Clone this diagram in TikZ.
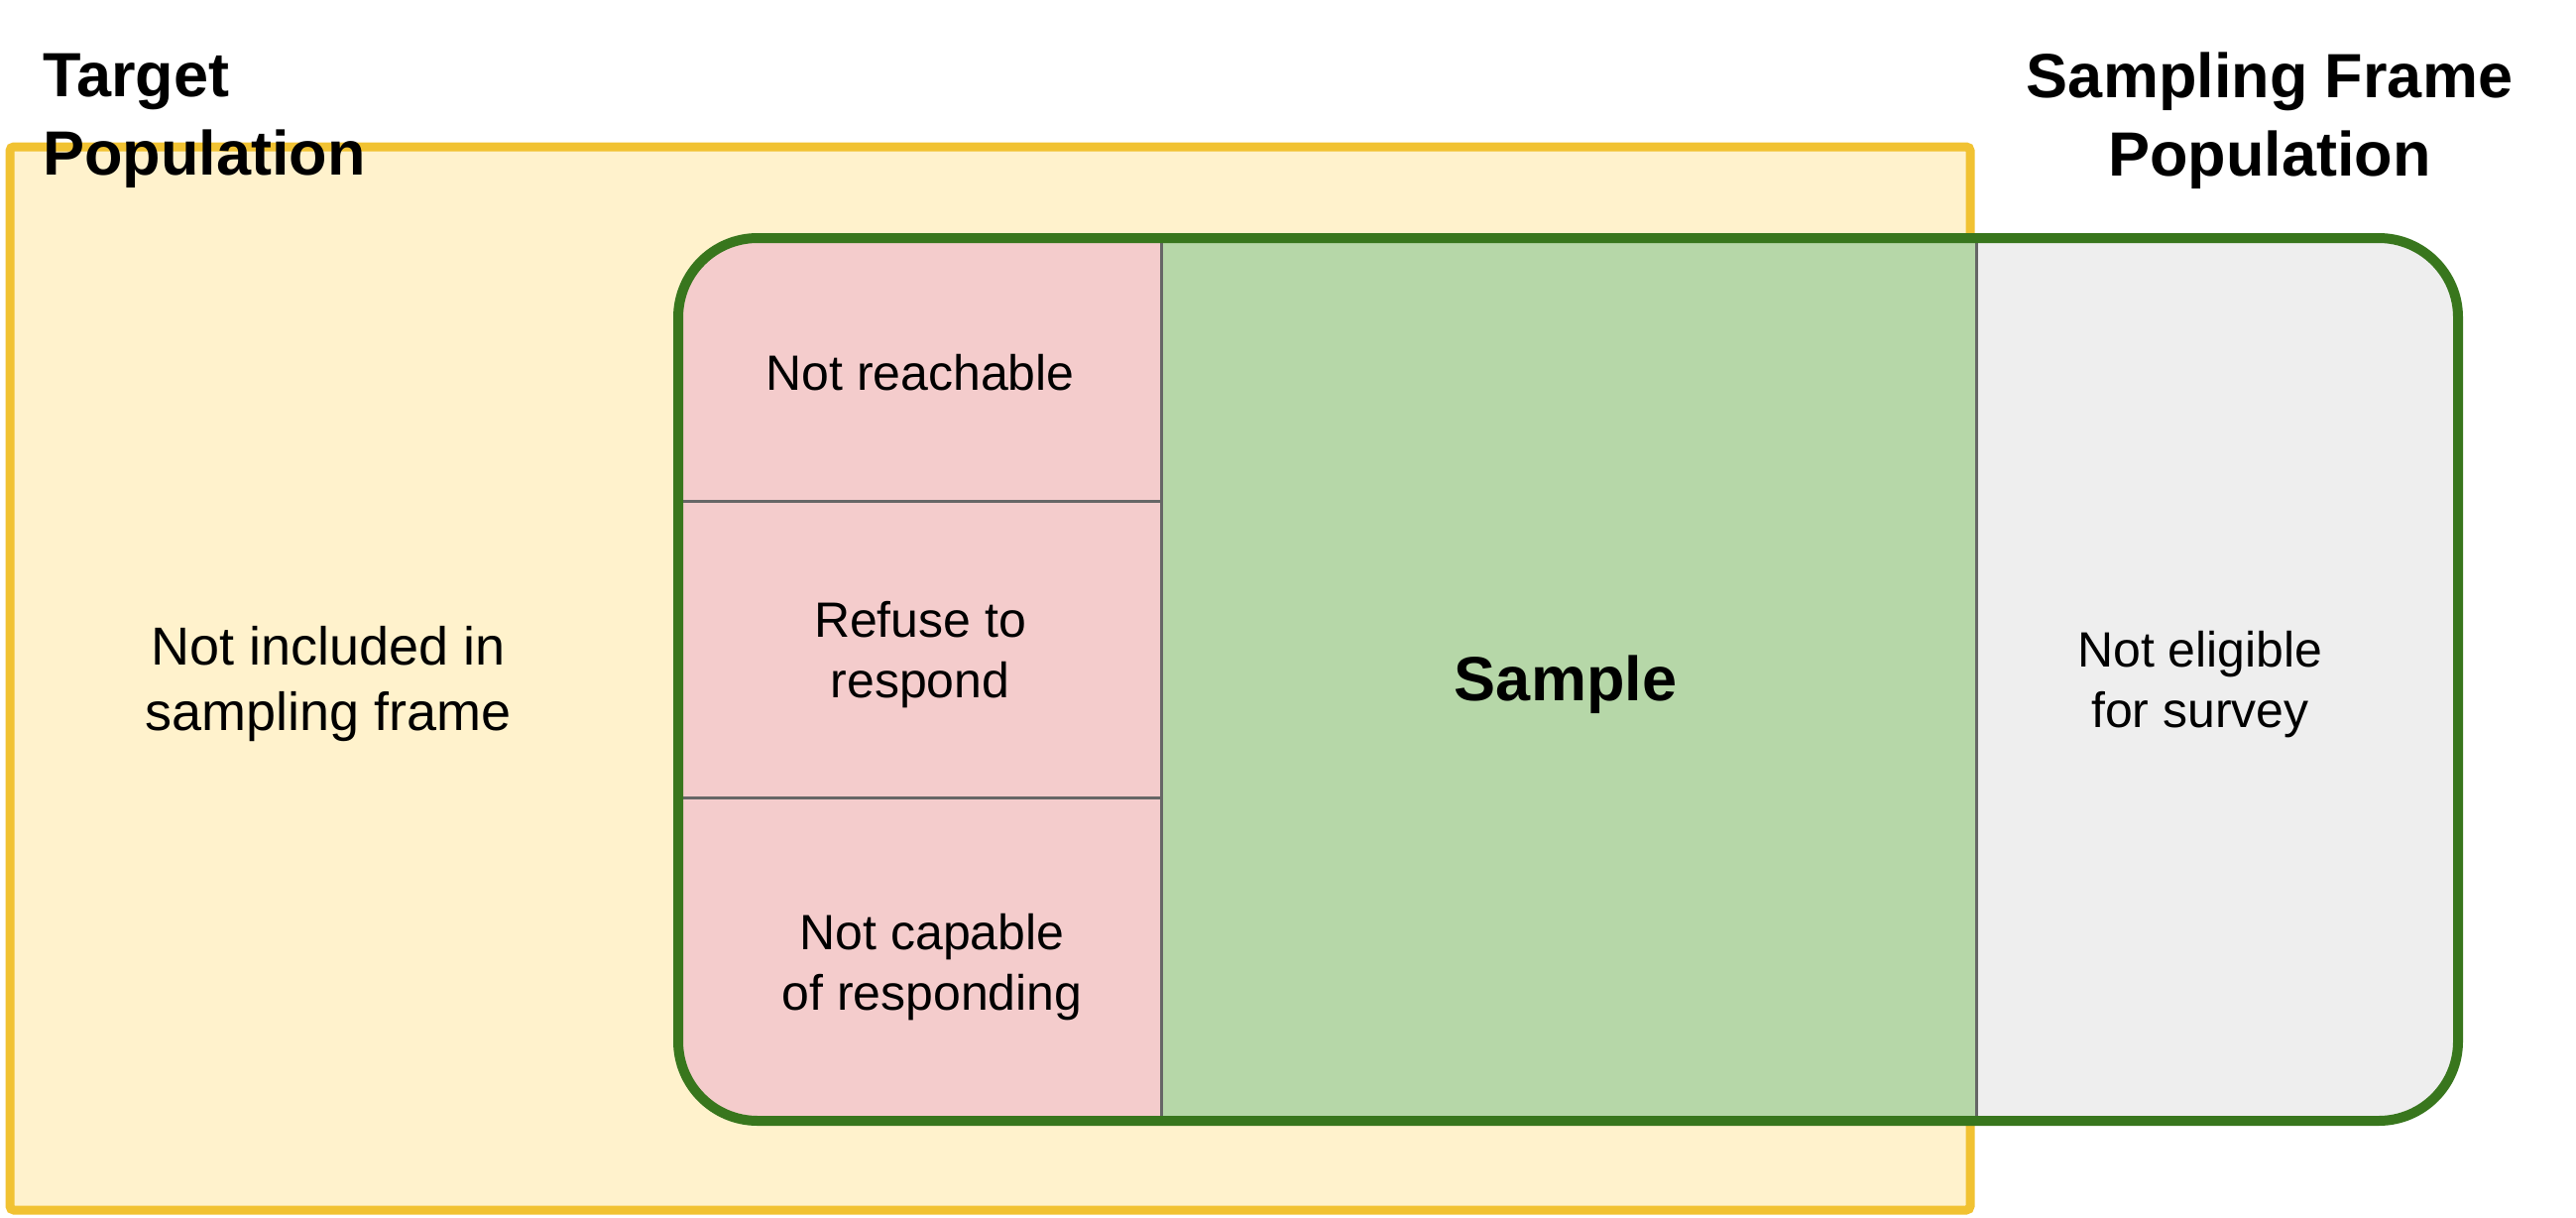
\documentclass[tikz,border=0pt]{standalone}
\usepackage{fontspec}
\setmainfont{Liberation Sans}
\definecolor{yfill}{HTML}{FFF2CC}
\definecolor{ystroke}{HTML}{F1C232}
\definecolor{gstroke}{HTML}{38761D}
\definecolor{gfill}{HTML}{B6D7A8}
\definecolor{rfill}{HTML}{F4CCCC}
\definecolor{grayfill}{HTML}{EEEEEE}
\definecolor{divcol}{HTML}{666666}
\begin{document}
\begin{tikzpicture}[x=1pt,y=-1pt,
  heading/.style={font=\fontsize{63pt}{79pt}\selectfont\bfseries, inner sep=0pt},
  celltext/.style={font=\fontsize{50pt}{61pt}\selectfont, align=center, inner sep=0pt},
  bigtext/.style={font=\fontsize{54pt}{66pt}\selectfont, align=center, inner sep=0pt},
  divider/.style={draw=divcol, line width=3pt},
  frameline/.style={draw=gstroke, line width=10pt, rounded corners=80pt},
  targetbox/.style={draw=ystroke, fill=yfill, line width=9pt, rounded corners=4pt}
]
\useasboundingbox (0,0) rectangle (2598,1228);
\fill[white] (0,0) rectangle (2598,1228);

% target population
\draw[targetbox] (10,148) rectangle (1987,1220);

% sampling frame regions
\begin{scope}
  \clip[rounded corners=80pt] (684,240) rectangle (2479,1130);
  \fill[rfill] (684,240) rectangle (1171,1130);
  \fill[gfill] (1171,240) rectangle (1993,1130);
  \fill[grayfill] (1993,240) rectangle (2479,1130);
  \coordinate (d1t) at (1171,240);
  \coordinate (d1b) at (1171,1130);
  \coordinate (d2t) at (1993,240);
  \coordinate (d2b) at (1993,1130);
  \coordinate (h1l) at (684,505);
  \coordinate (h1r) at (1171,505);
  \coordinate (h2l) at (684,804);
  \coordinate (h2r) at (1171,804);
  \draw[divider] (d1t) -- (d1b);
  \draw[divider] (d2t) -- (d2b);
  \draw[divider] (h1l) -- (h1r);
  \draw[divider] (h2l) -- (h2r);
\end{scope}
\draw[frameline] (684,240) rectangle (2479,1130);

% texts
\node[heading, anchor=west, align=left] (tp) at (43,122) {Target\\Population};
\node[heading, align=center] (sfp) at (2289,122) {Sampling Frame\\Population};
\node[bigtext] (notinc) at (331,690) {Not included in\\sampling frame};
\node[celltext] (reach) at (928,376) {Not reachable};
\node[celltext] (refuse) at (928,660) {Refuse to\\respond};
\node[celltext] (capable) at (940,975) {Not capable\\of responding};
\node[font=\fontsize{63pt}{76pt}\selectfont\bfseries, inner sep=0pt] (sample) at (1579,690) {Sample};
\node[celltext] (elig) at (2219,690) {Not eligible\\for survey};
\end{tikzpicture}
\end{document}
